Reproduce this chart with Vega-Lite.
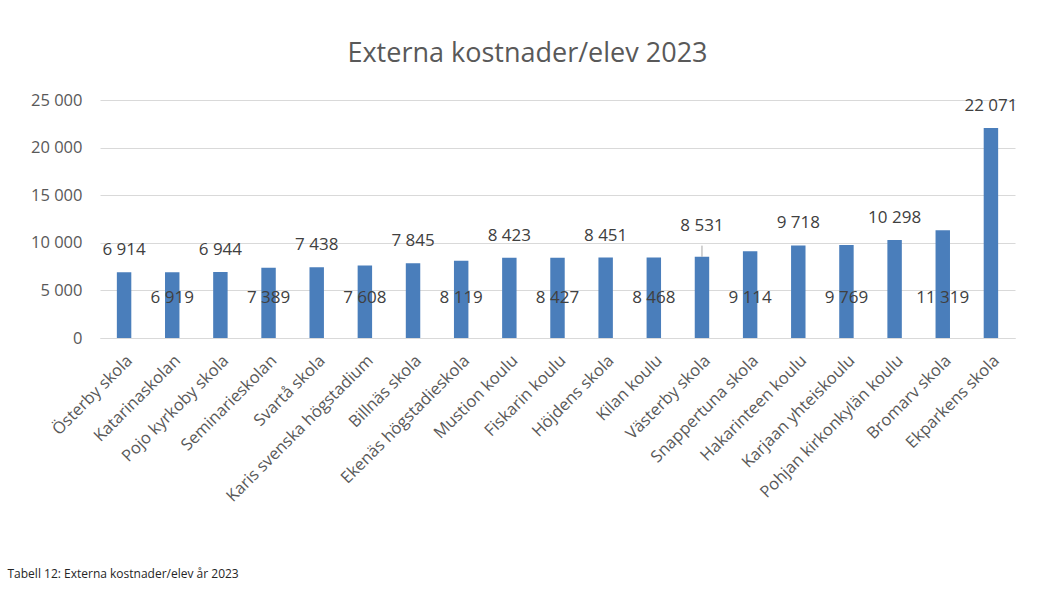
{
  "$schema": "https://vega.github.io/schema/vega-lite/v6.json",
  "width": 915,
  "height": 238,
  "autosize": {"type": "none"},
  "padding": {"left": 100, "top": 100, "right": 38, "bottom": 251},
  "background": "white",
  "config": {
    "locale": {"number": {"decimal": ",", "thousands": " ", "grouping": [3], "currency": ["", " €"]}},
    "view": {"stroke": null},
    "font": "Open Sans"
  },
  "title": {
    "text": "Externa kostnader/elev 2023",
    "fontSize": 27,
    "font": "Open Sans",
    "fontWeight": "normal",
    "color": "#595959",
    "anchor": "middle",
    "dx": -30,
    "offset": 24
  },
  "data": {
    "values": [
      {"skola": "Österby skola", "kostnad": 6914},
      {"skola": "Katarinaskolan", "kostnad": 6919},
      {"skola": "Pojo kyrkoby skola", "kostnad": 6944},
      {"skola": "Seminarieskolan", "kostnad": 7389},
      {"skola": "Svartå skola", "kostnad": 7438},
      {"skola": "Karis svenska högstadium", "kostnad": 7608},
      {"skola": "Billnäs skola", "kostnad": 7845},
      {"skola": "Ekenäs högstadieskola", "kostnad": 8119},
      {"skola": "Mustion koulu", "kostnad": 8423},
      {"skola": "Fiskarin koulu", "kostnad": 8427},
      {"skola": "Höjdens skola", "kostnad": 8451},
      {"skola": "Kilan koulu", "kostnad": 8468},
      {"skola": "Västerby skola", "kostnad": 8531},
      {"skola": "Snappertuna skola", "kostnad": 9114},
      {"skola": "Hakarinteen koulu", "kostnad": 9718},
      {"skola": "Karjaan yhteiskoulu", "kostnad": 9769},
      {"skola": "Pohjan kirkonkylän koulu", "kostnad": 10298},
      {"skola": "Bromarv skola", "kostnad": 11319},
      {"skola": "Ekparkens skola", "kostnad": 22071}
    ]
  },
  "transform": [{"window": [{"op": "row_number", "as": "nr"}]}],
  "encoding": {
    "x": {
      "field": "skola",
      "type": "nominal",
      "sort": null,
      "scale": {"paddingInner": 0.7, "paddingOuter": 0.35},
      "axis": {
        "title": "Tabell 12: Externa kostnader/elev år 2023",
        "titleX": -93,
        "titleY": 235,
        "titleAlign": "left",
        "titleAnchor": null,
        "titleBaseline": "middle",
        "titleFontSize": 12,
        "titleFontWeight": "normal",
        "titleColor": "#262626",
        "labelAngle": -45,
        "labelFontSize": 16.5,
        "labelColor": "#595959",
        "labelPadding": 14,
        "labelLimit": 400,
        "labelOverlap": false,
        "ticks": false,
        "domainColor": "#d9d9d9",
        "domainWidth": 1
      }
    },
    "y": {
      "field": "kostnad",
      "type": "quantitative",
      "scale": {"domain": [0, 25000]},
      "axis": {
        "title": null,
        "values": [0, 5000, 10000, 15000, 20000, 25000],
        "format": ",d",
        "labelFontSize": 16.5,
        "labelColor": "#595959",
        "labelPadding": 18,
        "ticks": false,
        "domain": false,
        "gridColor": "#d9d9d9",
        "gridWidth": 1
      }
    }
  },
  "layer": [
    {"mark": {"type": "bar", "color": "#4a7ebb"}},
    {
      "transform": [{"filter": "datum.nr % 2 == 1 && datum.skola != 'Västerby skola'"}],
      "mark": {"type": "text", "dy": -22, "fontSize": 17, "color": "#404040", "baseline": "middle"},
      "encoding": {"text": {"field": "kostnad", "type": "quantitative", "format": ",d"}}
    },
    {
      "transform": [{"filter": "datum.skola == 'Västerby skola'"}],
      "mark": {"type": "text", "dy": -31, "fontSize": 17, "color": "#404040", "baseline": "middle"},
      "encoding": {"text": {"field": "kostnad", "type": "quantitative", "format": ",d"}}
    },
    {
      "transform": [{"filter": "datum.skola == 'Västerby skola'"}],
      "mark": {"type": "rule", "color": "#a6a6a6", "strokeWidth": 1},
      "encoding": {"y2": {"datum": 9700}}
    },
    {
      "transform": [{"filter": "datum.nr % 2 == 0"}],
      "mark": {"type": "text", "fontSize": 17, "color": "#404040", "baseline": "middle"},
      "encoding": {
        "y": {"datum": 4200},
        "text": {"field": "kostnad", "type": "quantitative", "format": ",d"}
      }
    }
  ]
}
